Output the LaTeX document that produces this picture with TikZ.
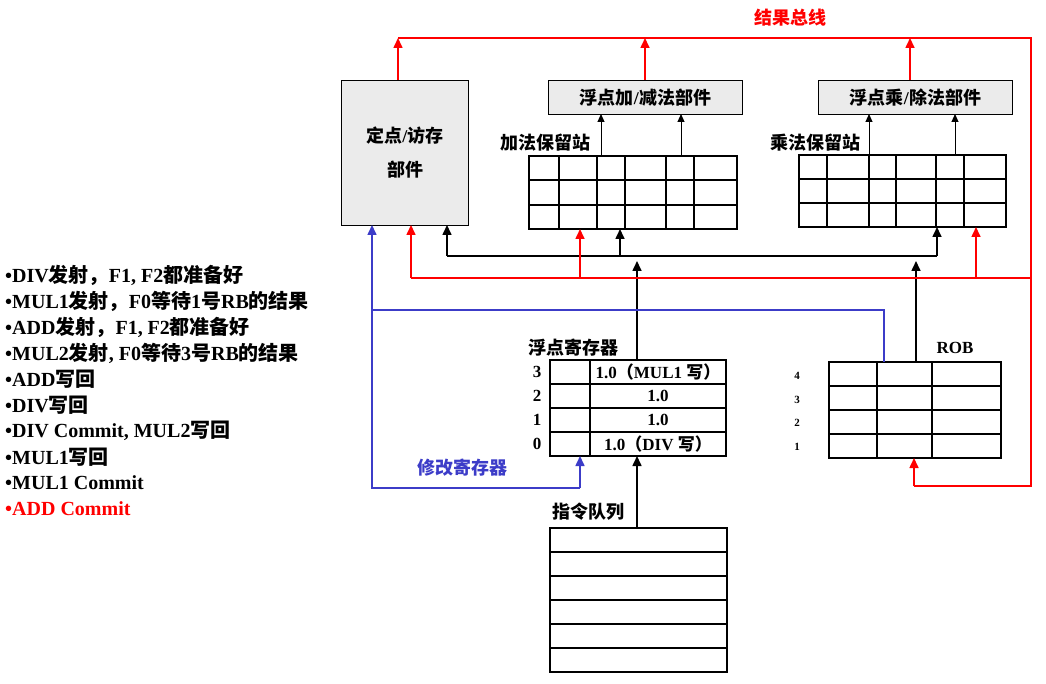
\documentclass[tikz,border=0pt]{standalone}
\usepackage{fontspec}
\setmainfont{Liberation Serif}
\newfontfamily\cjk{Noto Sans CJK SC}
\newcommand{\zh}[1]{{\cjk\bfseries #1}}
\usetikzlibrary{arrows.meta}
\definecolor{rb}{RGB}{255,0,0}
\definecolor{bb}{RGB}{60,60,200}
\definecolor{gb}{RGB}{235,235,235}
\begin{document}
\begin{tikzpicture}[x=1pt,y=-1pt,
  ln/.style={line width=1.6pt},
  ar/.style={ln,-{Triangle[length=10pt,width=9pt]}},
  sar/.style={line width=1pt,-{Triangle[length=8pt,width=7pt]}},
  fu/.style={draw,line width=1pt,fill=gb},
  tb/.style={draw,line width=1.2pt},
  lbl/.style={font=\bfseries\fontsize{17}{19}\selectfont,inner sep=0pt},
  cl/.style={font=\fontsize{18}{20}\selectfont,inner sep=0pt},
  lst/.style={font=\bfseries\fontsize{20}{22}\selectfont,anchor=west,inner sep=0pt}]
\useasboundingbox (0,0) rectangle (1046,684);
% functional units
\node[fu,minimum width=127pt,minimum height=145pt,anchor=north west,align=center,font=\fontsize{18}{34}\selectfont] (ls) at (341,80) {\zh{定点}\textbf{/}\zh{访存}\\\zh{部件}};
\node[fu,minimum width=194pt,minimum height=34pt,anchor=north west,font=\fontsize{18}{20}\selectfont] (fa) at (548,80) {\zh{浮点加}\textbf{/}\zh{减法部件}};
\node[fu,minimum width=194pt,minimum height=34pt,anchor=north west,font=\fontsize{18}{20}\selectfont] (fm) at (818,80) {\zh{浮点乘}\textbf{/}\zh{除法部件}};
% reservation stations
\draw[tb] (529,156) rectangle (737,229);
\foreach \y in {180,205} \draw[tb] (529,\y)--(737,\y);
\foreach \x in {559,597,625,666,694} \draw[tb] (\x,156)--(\x,229);
\draw[tb] (799,155) rectangle (1006,227);
\foreach \y in {179,203} \draw[tb] (799,\y)--(1006,\y);
\foreach \x in {827,869,896,936,964} \draw[tb] (\x,155)--(\x,227);
\node[cl,anchor=west] (rsa) at (500,143) {\zh{加法保留站}};
\node[cl,anchor=west] (rsm) at (770,143) {\zh{乘法保留站}};
\coordinate (a1) at (601,156); \coordinate (a2) at (681,156);
\coordinate (m1) at (869,155); \coordinate (m2) at (955,155);
\draw[sar] (a1)--(601,114);
\draw[sar] (a2)--(681,114);
\draw[sar] (m1)--(869,114);
\draw[sar] (m2)--(955,114);
% register file
\draw[tb] (550,360) rectangle (726,456);
\foreach \y in {384,408,432} \draw[tb] (550,\y)--(726,\y);
\draw[tb] (590,360)--(590,456);
\node[lbl] at (658,372) {1.0\zh{（}MUL1 \zh{写}\zh{）}};
\node[lbl] at (658,396) {1.0};
\node[lbl] at (658,420) {1.0};
\node[lbl] at (658,444) {1.0\zh{（}DIV \zh{写}\zh{）}};
\foreach \n/\y in {3/372,2/396,1/420,0/444} \node[lbl] at (537,\y) {\n};
\node[cl,anchor=west] (rfl) at (528,348) {\zh{浮点寄存器}};
% ROB
\draw[tb] (829,362) rectangle (1001,458);
\foreach \y in {386,410,434} \draw[tb] (829,\y)--(1001,\y);
\foreach \x in {877,932} \draw[tb] (\x,362)--(\x,458);
\foreach \n/\y in {4/376,3/400,2/423,1/447} \node[font=\bfseries\fontsize{11}{12}\selectfont] at (797,\y) {\n};
\node[lbl] (robl) at (955,348) {ROB};
% instruction queue
\draw[tb] (550,528) rectangle (727,672);
\foreach \y in {552,576,600,624,648} \draw[tb] (550,\y)--(727,\y);
\node[cl,anchor=west] (iql) at (552,512) {\zh{指令队列}};
\draw[ar] (637,528)--(637,456);
% black bus
\draw[ln] (447,256)--(937,256);
\draw[ar] (447,256)--(447,225);
\draw[ar] (620,256)--(620,229);
\draw[ar] (937,256)--(937,227);
\draw[ar] (637,360)--(637,261);
\draw[ar] (916,362)--(916,261);
% red result bus
\draw[ln,rb] (398,38)--(1031,38)--(1031,486)--(914,486);
\draw[ar,rb] (914,486)--(914,458);
\draw[ar,rb] (398,80)--(398,38);
\draw[ar,rb] (645,80)--(645,38);
\draw[ar,rb] (910,80)--(910,38);
\draw[ln,rb] (411,278)--(1031,278);
\draw[ar,rb] (411,278)--(411,225);
\draw[ar,rb] (580,278)--(580,229);
\draw[ar,rb] (976,278)--(976,227);
\node[cl,text=rb] (bus) at (790,18) {\zh{结果总线}};
% blue
\draw[ln,bb] (884,362)--(884,310)--(372,310);
\draw[ar,bb] (580,488)--(372,488)--(372,225);
\draw[ar,bb] (580,488)--(580,456);
\node[cl,text=bb] (mod) at (462,468) {\zh{修改寄存器}};
% list
\node[lst] at (5,275) {•DIV\zh{发射}\zh{，}F1, F2\zh{都准备好}};
\node[lst] at (5,301) {•MUL1\zh{发射}\zh{，}F0\zh{等待}1\zh{号}RB\zh{的结果}};
\node[lst] at (5,327) {•ADD\zh{发射}\zh{，}F1, F2\zh{都准备好}};
\node[lst] at (5,353) {•MUL2\zh{发射}, F0\zh{等待}3\zh{号}RB\zh{的结果}};
\node[lst] at (5,379) {•ADD\zh{写回}};
\node[lst] at (5,405) {•DIV\zh{写回}};
\node[lst] at (5,431) {•DIV Commit, MUL2\zh{写回}};
\node[lst] at (5,457) {•MUL1\zh{写回}};
\node[lst] at (5,483) {•MUL1 Commit};
\node[lst,text=rb] at (5,509) {•ADD Commit};
\end{tikzpicture}
\end{document}
